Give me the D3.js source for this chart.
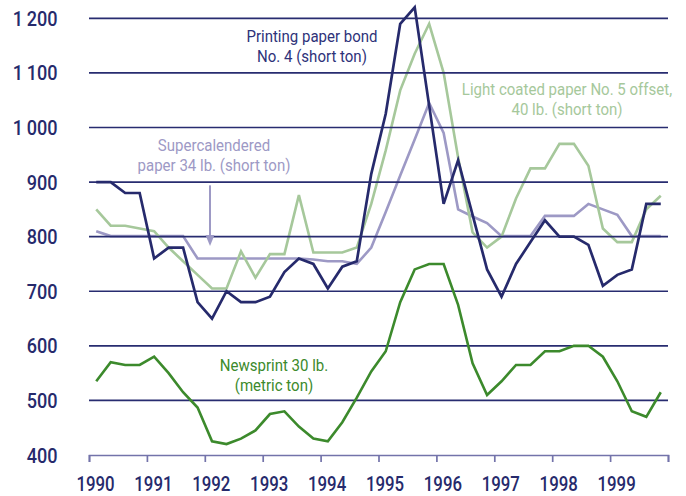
<!DOCTYPE html>
<html>
<head>
<meta charset="utf-8">
<script src="https://cdn.jsdelivr.net/npm/d3@7"></script>
<style>
  html, body { margin: 0; padding: 0; background: #ffffff; }
  svg { display: block; }
  text { font-family: Roboto, "Liberation Sans", sans-serif; }
</style>
</head>
<body>
<svg id="chart" width="686" height="496"></svg>
<script>
// Quarterly paper prices, 1990–1999 (US$ per ton)
const years = [1990, 1991, 1992, 1993, 1994, 1995, 1996, 1997, 1998, 1999];
const quarters = [0, 1, 2, 3];
const yTicks = [400, 500, 600, 700, 800, 900, 1000, 1100, 1200];

const printingBond = [
  900, 900, 880, 880, 760, 780, 780, 680, 650, 700,
  680, 680, 690, 735, 760, 750, 705, 745, 755, 915,
  1025, 1190, 1220, 1040, 860, 940, 840, 740, 690, 750,
  790, 830, 800, 800, 785, 710, 730, 740, 860, 860
];
const lightCoated = [
  850, 820, 820, 815, 810, 780, 755, 730, 705, 705,
  773, 725, 768, 768, 876, 771, 771, 771, 780, 860,
  958, 1068, 1135, 1190, 1100, 945, 808, 780, 800, 870,
  925, 925, 970, 970, 930, 815, 790, 790, 850, 875
];
const supercalendered = [
  810, 801, 801, 801, 801, 801, 801, 760, 760, 760,
  760, 760, 760, 760, 760, 758, 755, 755, 750, 780,
  845, 912, 978, 1045, 990, 850, 837, 825, 801, 801,
  801, 838, 838, 838, 860, 850, 840, 801, 801, 801
];
const newsprint = [
  535, 570, 565, 565, 580, 550, 515, 487, 425, 420,
  430, 445, 475, 480, 452, 430, 425, 460, 505, 553,
  590, 680, 740, 750, 750, 675, 568, 510, 535, 565,
  565, 590, 590, 600, 600, 580, 535, 480, 470, 515
];

// Each value sits at the middle of its quarter
const periods = years.flatMap(y => quarters.map(q => y + (q + 0.5) / 4));

const navy = "#262a6c";
const gridColor = "#282c70";
const axisColor = "#7373aa";
const lavender = "#9d99c5";
const lightGreen = "#a6c89b";
const darkGreen = "#3c8a2c";

const svg = d3.select("#chart");

const x = d3.scaleLinear().domain([1990, 2000]).range([89, 668]);
const y = d3.scaleLinear().domain([400, 1200]).range([455, 18.3]);

// Squeeze text horizontally for a narrow, condensed look
function condense(sel, factor) {
  sel.each(function () {
    const w = this.getComputedTextLength();
    d3.select(this)
      .attr("textLength", w * factor)
      .attr("lengthAdjust", "spacingAndGlyphs");
  });
}

const line = d3.line()
  .x((d, i) => x(periods[i]))
  .y(d => y(d));

function drawSeries(values, color, width) {
  svg.append("path")
    .datum(values)
    .attr("fill", "none")
    .attr("stroke", color)
    .attr("stroke-width", width)
    .attr("stroke-linejoin", "miter")
    .attr("d", line);
}

// Lighter series sit beneath the grid
drawSeries(supercalendered, lavender, 2.6);
drawSeries(lightCoated, lightGreen, 2.6);

// Horizontal grid (value lines above the baseline)
svg.append("g").selectAll("line")
  .data(yTicks.filter(v => v > 400))
  .join("line")
  .attr("x1", x(1990))
  .attr("x2", x(2000))
  .attr("y1", d => y(d))
  .attr("y2", d => y(d))
  .attr("stroke", gridColor)
  .attr("stroke-width", 1.7);

drawSeries(newsprint, darkGreen, 2.6);
drawSeries(printingBond, navy, 2.7);

// Bottom axis with year ticks
const xAxis = d3.axisBottom(x)
  .tickValues(d3.range(1990, 2001))
  .tickSize(7)
  .tickFormat("");
const gx = svg.append("g")
  .attr("transform", `translate(0,${y(400)})`)
  .call(xAxis);
gx.select(".domain").attr("stroke", axisColor).attr("stroke-width", 1.7);
gx.selectAll(".tick line").attr("stroke", axisColor).attr("stroke-width", 1.7);

const yearLabels = svg.append("g").selectAll("text")
  .data(years)
  .join("text")
  .attr("x", d => x(d) + 6.5)
  .attr("y", 491)
  .attr("text-anchor", "middle")
  .attr("fill", navy)
  .attr("font-size", 21)
  .attr("font-weight", 500)
  .text(d => d);
condense(yearLabels, 0.8);

// Value labels on the left
const fmt = v => v >= 1000 ? d3.format(",")(v).replace(",", "\u2009") : String(v);
const valueLabels = svg.append("g").selectAll("text")
  .data(yTicks)
  .join("text")
  .attr("x", 57.5)
  .attr("y", d => y(d))
  .attr("dy", "0.36em")
  .attr("text-anchor", "end")
  .attr("fill", navy)
  .attr("font-size", 21)
  .attr("font-weight", 500)
  .text(fmt);
condense(valueLabels, 0.86);

// Series annotations
function label(lines, cx, baseline, color, gap) {
  lines.forEach((s, i) => {
    const t = svg.append("text")
      .attr("x", cx)
      .attr("y", baseline + i * gap)
      .attr("text-anchor", "middle")
      .attr("fill", color)
      .attr("font-size", 16.5)
      .text(s);
    condense(t, 0.91);
  });
}
label(["Printing paper bond", "No. 4 (short ton)"], 312, 42, "#2e3279", 19.5);
label(["Light coated paper No. 5 offset,", "40 lb. (short ton)"], 567, 95, lightGreen, 20);
label(["Supercalendered", "paper 34 lb. (short ton)"], 214, 151, lavender, 19.5);
label(["Newsprint 30 lb.", "(metric ton)"], 274, 371, darkGreen, 19.5);

// Pointer from the supercalendered label down to its line
const ax = x(1992.09);
svg.append("line")
  .attr("x1", ax).attr("x2", ax)
  .attr("y1", y(894)).attr("y2", y(800))
  .attr("stroke", lavender)
  .attr("stroke-width", 2);
svg.append("path")
  .attr("d", d3.line()([[ax - 4.5, y(803)], [ax + 4.5, y(803)], [ax, y(783)]]) + "Z")
  .attr("fill", lavender);
</script>
</body>
</html>
